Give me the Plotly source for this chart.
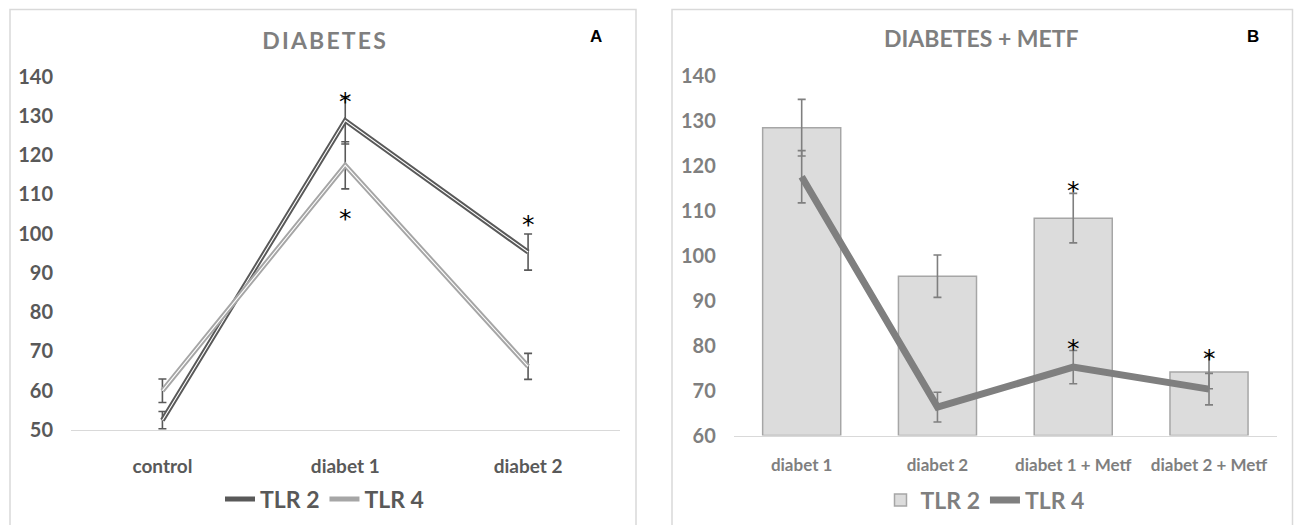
import plotly.graph_objects as go

# ---------------- data ----------------
categories_a = ["control", "diabet 1", "diabet 2"]
tlr2_a = [52.5, 128.8, 95.3]
tlr2_a_err = [2.2, 6.0, 4.6]
tlr4_a = [60.0, 117.4, 66.2]
tlr4_a_err = [3.0, 6.0, 3.3]
stars_a_x = ["diabet 1", "diabet 1", "diabet 2"]
stars_a_y = [135.2, 105.5, 103.9]

categories_b = ["diabet 1", "diabet 2", "diabet 1 + Metf", "diabet 2 + Metf"]
tlr2_b = [128.4, 95.4, 108.3, 74.1]
tlr2_b_err = [6.3, 4.7, 5.5, 3.7]
tlr4_b = [117.5, 66.3, 75.2, 70.3]
tlr4_b_err = [5.8, 3.3, 3.7, 3.5]
stars_b_x = ["diabet 1 + Metf", "diabet 1 + Metf", "diabet 2 + Metf"]
stars_b_y = [115.8, 80.7, 78.4]

series_names = ["TLR 2", "TLR 4"]
title_a = "DIABETES"
title_b = "DIABETES + METF"
yticks_a = list(range(50, 141, 10))
yticks_b = list(range(60, 141, 10))

FONT = "Lato"
DARK = "#595959"
LIGHT = "#a6a6a6"
MID = "#7f7f7f"

fig = go.Figure()

# ---------------- panel A ----------------
fig.add_trace(go.Scatter(
    x=categories_a, y=tlr2_a, mode="lines", name=series_names[0],
    line=dict(color=DARK, width=5),
    error_y=dict(type="data", array=tlr2_a_err, color=DARK, thickness=1.6, width=4),
    xaxis="x", yaxis="y", legend="legend"))
fig.add_trace(go.Scatter(
    x=categories_a, y=tlr2_a, mode="lines", showlegend=False, hoverinfo="skip",
    line=dict(color="white", width=1.1), xaxis="x", yaxis="y"))
fig.add_trace(go.Scatter(
    x=categories_a, y=tlr4_a, mode="lines", name=series_names[1],
    line=dict(color=LIGHT, width=5),
    error_y=dict(type="data", array=tlr4_a_err, color=DARK, thickness=1.6, width=4),
    xaxis="x", yaxis="y", legend="legend"))
fig.add_trace(go.Scatter(
    x=categories_a, y=tlr4_a, mode="lines", showlegend=False, hoverinfo="skip",
    line=dict(color="white", width=1.1), xaxis="x", yaxis="y"))

# ---------------- panel B ----------------
fig.add_trace(go.Bar(
    x=categories_b, y=[v - 60 for v in tlr2_b], base=60, name=series_names[0],
    marker=dict(color="#dcdcdc", line=dict(color=LIGHT, width=1.5)),
    error_y=dict(type="data", array=tlr2_b_err, color=MID, thickness=1.6, width=4),
    xaxis="x2", yaxis="y2", legend="legend2"))
fig.add_trace(go.Scatter(
    x=categories_b, y=tlr4_b, mode="lines", name=series_names[1],
    line=dict(color=MID, width=7),
    error_y=dict(type="data", array=tlr4_b_err, color=MID, thickness=1.6, width=4),
    xaxis="x2", yaxis="y2", legend="legend2"))

# asterisks
annotations = []
for xv, yv in zip(stars_a_x, stars_a_y):
    annotations.append(dict(x=xv, y=yv, xref="x", yref="y", text="*", showarrow=False,
                            font=dict(family="DejaVu Sans", size=25, color="black"),
                            xanchor="center", yanchor="middle", yshift=-6))
for xv, yv in zip(stars_b_x, stars_b_y):
    annotations.append(dict(x=xv, y=yv, xref="x2", yref="y2", text="*", showarrow=False,
                            font=dict(family="DejaVu Sans", size=25, color="black"),
                            xanchor="center", yanchor="middle", yshift=-6))

# titles and panel letters
annotations += [
    dict(x=325 / 1300, y=1 - 40 / 525, xref="paper", yref="paper", text="<b>" + title_a + "</b>",
         showarrow=False, xanchor="center", yanchor="middle",
         font=dict(family=FONT, size=23, color=MID)),
    dict(x=981 / 1300, y=1 - 38 / 525, xref="paper", yref="paper", text="<b>" + title_b + "</b>",
         showarrow=False, xanchor="center", yanchor="middle",
         font=dict(family=FONT, size=23, color=MID)),
    dict(x=596 / 1300, y=1 - 36 / 525, xref="paper", yref="paper", text="<b>A</b>",
         showarrow=False, xanchor="center", yanchor="middle",
         font=dict(family="Liberation Sans", size=17, color="black")),
    dict(x=1253 / 1300, y=1 - 36 / 525, xref="paper", yref="paper", text="<b>B</b>",
         showarrow=False, xanchor="center", yanchor="middle",
         font=dict(family="Liberation Sans", size=17, color="black")),
]

shapes = [
    dict(type="rect", xref="paper", yref="paper", x0=10 / 1300, x1=636 / 1300,
         y0=-0.1, y1=1 - 9.5 / 525, line=dict(color="#d9d9d9", width=1.5), layer="below"),
    dict(type="rect", xref="paper", yref="paper", x0=672 / 1300, x1=1292.5 / 1300,
         y0=-0.1, y1=1 - 9.5 / 525, line=dict(color="#d9d9d9", width=1.5), layer="below"),
]

fig.update_layout(
    template="none",
    width=1300, height=525,
    margin=dict(l=0, r=0, t=0, b=0, pad=0, autoexpand=False),
    paper_bgcolor="white", plot_bgcolor="white",
    showlegend=True,
    bargap=0.425,
    annotations=annotations,
    shapes=shapes,
    font=dict(family=FONT, color=DARK),
    xaxis=dict(domain=[71 / 1300, 619.5 / 1300], type="category",
               categoryorder="array", categoryarray=categories_a, range=[-0.5, 2.5],
               showline=True, linecolor="#d9d9d9", linewidth=1.2, showgrid=False, zeroline=False,
               ticks="", ticklabelstandoff=19, automargin=False,
               tickfont=dict(family=FONT, size=19, color=DARK, weight="bold"),
               anchor="y", fixedrange=True),
    yaxis=dict(domain=[1 - 430 / 525, 1 - 76.5 / 525], range=[50, 140],
               tickvals=yticks_a, showgrid=False, zeroline=False, showline=False,
               ticks="", ticklabelstandoff=17, automargin=False,
               tickfont=dict(family=FONT, size=20, color=DARK, weight="bold"),
               anchor="x", fixedrange=True),
    xaxis2=dict(domain=[733.8 / 1300, 1276.9 / 1300], type="category",
                categoryorder="array", categoryarray=categories_b, range=[-0.5, 3.5],
                showline=True, linecolor="#d9d9d9", linewidth=1.2, showgrid=False, zeroline=False,
                ticks="", ticklabelstandoff=14, automargin=False,
                tickfont=dict(family=FONT, size=17, color=MID, weight="bold"),
                anchor="y2", fixedrange=True),
    yaxis2=dict(domain=[1 - 435.5 / 525, 1 - 75.5 / 525], range=[60, 140],
                tickvals=yticks_b, showgrid=False, zeroline=False, showline=False,
                ticks="", ticklabelstandoff=17, automargin=False,
                tickfont=dict(family=FONT, size=20, color=MID, weight="bold"),
                anchor="x2", fixedrange=True),
    legend=dict(orientation="h", x=324.5 / 1300, xanchor="center", y=1 - 499 / 525, yanchor="middle",
                font=dict(family=FONT, size=23, color=DARK, weight="bold"),
                bgcolor="rgba(0,0,0,0)", itemwidth=30),
    legend2=dict(orientation="h", x=985 / 1300, xanchor="center", y=1 - 500 / 525, yanchor="middle",
                 font=dict(family=FONT, size=23, color=MID, weight="bold"),
                 bgcolor="rgba(0,0,0,0)", itemwidth=30),
)

post = (
    "document.body.style.margin='0';document.body.style.overflow='hidden';"
    "document.querySelectorAll('g.annotation-text-g text').forEach(function(t){"
    "if(t.textContent==='DIABETES'){t.style.letterSpacing='2.2px';}});"
)

fig.write_html("out.html", config={"displayModeBar": False}, post_script=post)
